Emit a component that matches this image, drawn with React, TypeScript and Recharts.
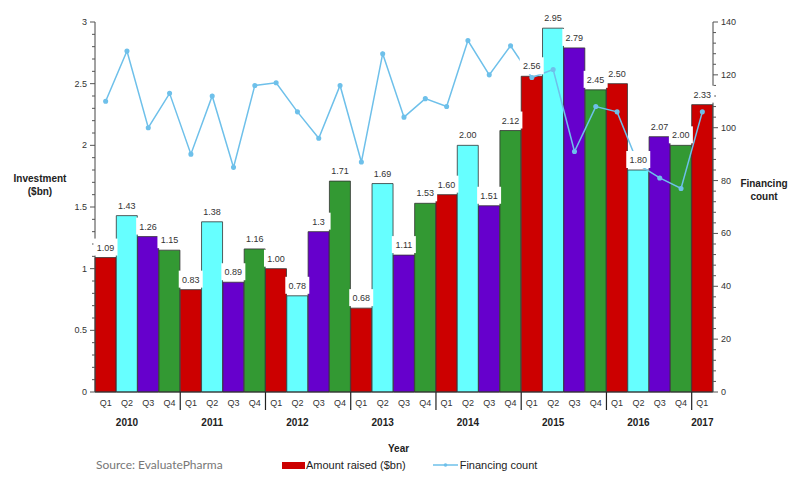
import { ComposedChart, Bar, Line, XAxis, YAxis, Cell, LabelList } from "recharts";

const years = ["2010", "2011", "2012", "2013", "2014", "2015", "2016", "2017"];
const quarters = ["Q1", "Q2", "Q3", "Q4"];

// amount raised per quarter ($bn), as printed on the bars
const amountLabels = [
  "1.09", "1.43", "1.26", "1.15",
  "0.83", "1.38", "0.89", "1.16",
  "1.00", "0.78", "1.3", "1.71",
  "0.68", "1.69", "1.11", "1.53",
  "1.60", "2.00", "1.51", "2.12",
  "2.56", "2.95", "2.79", "2.45",
  "2.50", "1.80", "2.07", "2.00",
  "2.33",
];

// number of financings per quarter
const financingCount = [
  110, 129, 100, 113,
  90, 112, 85, 116,
  117, 106, 96, 116,
  87, 128, 104, 111,
  108, 133, 120, 131,
  119, 122, 91, 108,
  106, 86, 81, 77,
  106,
];

const leftTicks = [0, 0.5, 1, 1.5, 2, 2.5, 3];
const rightTicks = [0, 20, 40, 60, 80, 100, 120, 140];

const quarterColors: Record<string, string> = {
  Q1: "#cc0000",
  Q2: "#66ffff",
  Q3: "#6600cc",
  Q4: "#339933",
};
const lineColor = "#6ec0ea";
const FONT = "'Liberation Sans', Arial, sans-serif";

const rows = amountLabels.map((label, i) => ({
  key: `${years[Math.floor(i / 4)]} ${quarters[i % 4]}`,
  year: years[Math.floor(i / 4)],
  quarter: quarters[i % 4],
  label,
  amount: Number(label),
  count: financingCount[i],
}));

// minor ticks between the labelled ones
const leftMinor = Array.from({ length: 31 }, (_, i) => +(i * 0.1).toFixed(1));
const rightMinor = Array.from({ length: 36 }, (_, i) => i * 4);

function LeftTick({ x, y, payload }: any) {
  const v = payload.value;
  const major = leftTicks.some((t) => Math.abs(t - v) < 1e-6);
  return (
    <g>
      <line x1={x} x2={x - (major ? 5 : 3)} y1={y} y2={y} stroke="#555" strokeWidth={1} />
      {major && (
        <text x={x - 8} y={y} dy={3} textAnchor="end" fontSize={9} fill="#333" fontFamily={FONT}>
          {String(v)}
        </text>
      )}
    </g>
  );
}

function RightTick({ x, y, payload }: any) {
  const v = payload.value;
  const major = rightTicks.includes(v);
  return (
    <g>
      <line x1={x} x2={x + (major ? 5 : 3)} y1={y} y2={y} stroke="#555" strokeWidth={1} />
      {major && (
        <text x={x + 8} y={y} dy={3} textAnchor="start" fontSize={9} fill="#333" fontFamily={FONT}>
          {String(v)}
        </text>
      )}
    </g>
  );
}

function QuarterTick({ x, y, index, width, visibleTicksCount }: any) {
  const row = rows[index];
  const band = width && visibleTicksCount ? width / visibleTicksCount : 618 / rows.length;
  const showYear = row.quarter === "Q2" || row.year === years[years.length - 1];
  return (
    <g>
      <text x={x} y={y + 14} textAnchor="middle" fontSize={9} fill="#333" fontFamily={FONT}>
        {row.quarter}
      </text>
      {showYear && (
        <text x={x} y={y + 34} textAnchor="middle" fontSize={10} fontWeight="bold" fill="#222" fontFamily={FONT}>
          {row.year}
        </text>
      )}
      {row.quarter === "Q1" && index > 0 && (
        <line x1={x - band / 2} x2={x - band / 2} y1={y} y2={y + 18} stroke="#222" strokeWidth={1.2} />
      )}
    </g>
  );
}

function BarLabel({ x, y, width, value }: any) {
  const cx = x + width / 2;
  return (
    <g>
      <rect x={cx - 12} y={y - 19} width={24} height={17} fill="#fff" />
      <text x={cx} y={y - 7} textAnchor="middle" fontSize={9} fill="#333" fontFamily={FONT}>
        {value}
      </text>
    </g>
  );
}

export default function App() {
  return (
    <div
      style={{
        position: "absolute",
        left: 0,
        top: 0,
        width: 792,
        height: 477,
        overflow: "hidden",
        background: "#fff",
        fontFamily: FONT,
      }}
    >
      <ComposedChart
        width={792}
        height={477}
        data={rows}
        margin={{ top: 22, right: 0, left: 0, bottom: 55 }}
        barCategoryGap={0}
        barGap={0}
      >
        <XAxis
          dataKey="key"
          interval={0}
          tickSize={0}
          tickMargin={0}
          tickLine={false}
          height={30}
          stroke="#333"
          tick={<QuarterTick />}
        />
        <YAxis
          yAxisId="left"
          orientation="left"
          width={95}
          domain={[0, 3]}
          ticks={leftMinor}
          interval={0}
          tickSize={0}
          tickMargin={0}
          tickLine={false}
          stroke="#444"
          tick={<LeftTick />}
        />
        <YAxis
          yAxisId="right"
          orientation="right"
          width={79}
          domain={[0, 140]}
          ticks={rightMinor}
          interval={0}
          tickSize={0}
          tickMargin={0}
          tickLine={false}
          stroke="#444"
          tick={<RightTick />}
        />
        <Bar yAxisId="left" dataKey="amount" stroke="#333" strokeWidth={0.8} isAnimationActive={false}>
          {rows.map((r) => (
            <Cell key={r.key} fill={quarterColors[r.quarter]} />
          ))}
          <LabelList dataKey="label" content={<BarLabel />} />
        </Bar>
        <Line
          yAxisId="right"
          dataKey="count"
          stroke={lineColor}
          strokeWidth={1.5}
          dot={{ r: 1.8, fill: lineColor, stroke: lineColor }}
          isAnimationActive={false}
        />
      </ComposedChart>

      <div style={{ position: "absolute", left: 0, top: 172, width: 80, textAlign: "center", fontSize: 10, fontWeight: "bold", color: "#222", lineHeight: "13px" }}>
        Investment
        <br />($bn)
      </div>
      <div style={{ position: "absolute", left: 734, top: 177, width: 60, textAlign: "center", fontSize: 10, fontWeight: "bold", color: "#222", lineHeight: "13px" }}>
        Financing
        <br />count
      </div>
      <div style={{ position: "absolute", left: 388, top: 443, fontSize: 10, fontWeight: "bold", color: "#222" }}>Year</div>
      <div style={{ position: "absolute", left: 96, top: 457, fontSize: 12, color: "#777", fontFamily: "Lato, 'Open Sans', sans-serif" }}>
        Source: EvaluatePharma
      </div>
      <div style={{ position: "absolute", left: 282, top: 459, display: "flex", alignItems: "center", fontSize: 11, color: "#222" }}>
        <span style={{ display: "inline-block", width: 23, height: 7, background: "#cc0000", marginRight: 1 }} />
        <span>Amount raised ($bn)</span>
        <svg width={25} height={8} style={{ marginLeft: 27, marginRight: 2 }}>
          <line x1={0} x2={25} y1={4} y2={4} stroke={lineColor} strokeWidth={1.5} />
          <circle cx={12.5} cy={4} r={1.8} fill={lineColor} />
        </svg>
        <span>Financing count</span>
      </div>
    </div>
  );
}
